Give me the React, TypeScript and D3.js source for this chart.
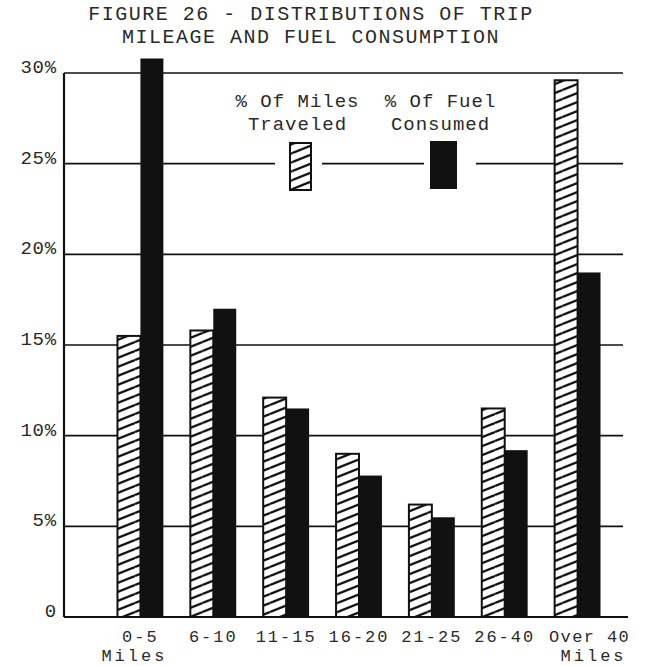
import React from "react";
import * as d3 from "d3";

// chart values
const categories = ["0-5", "6-10", "11-15", "16-20", "21-25", "26-40", "Over 40"];
const milesTraveled = [15.5, 15.8, 12.1, 9.0, 6.2, 11.5, 29.6];
const fuelConsumed = [30.8, 17.0, 11.5, 7.8, 5.5, 9.2, 19.0];
const seriesKeys = ["miles", "fuel"];
const seriesLabels = [["% Of Miles", "Traveled"], ["% Of Fuel", "Consumed"]];
const yTicks = [0, 5, 10, 15, 20, 25, 30];
const yTickLabels = ["0", "5%", "10%", "15%", "20%", "25%", "30%"];
const unitLabel = "Miles";
const titleLines = ["FIGURE 26 - DISTRIBUTIONS OF TRIP", "MILEAGE AND FUEL CONSUMPTION"];

const W = 649;
const H = 666;
const FONT = '"Liberation Mono", "DejaVu Sans Mono", monospace';
const INK = "#111";
const TXT = "#2a2a2a";

const App = () => {
  const left = 64;
  const right = 623;

  const y = d3.scaleLinear().domain([0, 30]).range([617, 73]);
  const x0 = d3.scaleBand<string>()
    .domain(categories)
    .range([104, 614])
    .paddingInner(0.37)
    .paddingOuter(0.185);
  const x1 = d3.scaleBand<string>().domain(seriesKeys).range([0, x0.bandwidth()]);

  const rows = categories.map((c, i) => ({ cat: c, miles: milesTraveled[i], fuel: fuelConsumed[i] }));

  // legend swatches
  const legend = [
    { key: "miles", x: 290, y: 143, w: 21, h: 47 },
    { key: "fuel", x: 431, y: 142, w: 25, h: 46 },
  ];

  // the 25% gridline is broken around the legend swatches
  const y25 = y(25);
  const legendSegs = [[left, 275], [322, 424], [476, right]];

  return (
    <svg width={W} height={H} style={{ position: "absolute", left: 0, top: 0, background: "#fff" }}>
      <defs>
        <pattern id="hatch" patternUnits="userSpaceOnUse" width={22.5} height={9}>
          <rect width={22.5} height={9} fill="#fff" />
          <line x1={0} y1={9} x2={22.5} y2={0} stroke={INK} strokeWidth={2.3} />
          <line x1={0} y1={18} x2={22.5} y2={9} stroke={INK} strokeWidth={2.3} />
          <line x1={0} y1={0} x2={22.5} y2={-9} stroke={INK} strokeWidth={2.3} />
        </pattern>
      </defs>

      {/* title */}
      {titleLines.map((t, i) => (
        <text key={t} x={311} y={20 + i * 23} textAnchor="middle" fontFamily={FONT} fontSize={20}
          letterSpacing={1.5} fill={TXT}>
          {t}
        </text>
      ))}

      {/* gridlines */}
      {yTicks.filter(t => t > 0 && t !== 25).map(t => (
        <line key={t} x1={left} x2={right} y1={y(t)} y2={y(t)} stroke={INK} strokeWidth={1.6} />
      ))}
      {legendSegs.map((s, i) => (
        <line key={"s" + i} x1={s[0]} x2={s[1]} y1={y25} y2={y25} stroke={INK} strokeWidth={1.6} />
      ))}

      {/* axes */}
      <line x1={left} x2={left} y1={y(30)} y2={y(0)} stroke={INK} strokeWidth={2.2} />
      <line x1={left} x2={628} y1={y(0)} y2={y(0)} stroke={INK} strokeWidth={2.2} />

      {/* y tick labels */}
      {yTicks.map((t, i) => (
        <text key={t} x={57} y={y(t)} textAnchor="end" fontFamily={FONT} fontSize={19}
          letterSpacing={0.8} fill={TXT}>
          {yTickLabels[i]}
        </text>
      ))}

      {/* bars */}
      {rows.map(r => {
        const gx = x0(r.cat)!;
        return (
          <g key={r.cat}>
            <rect
              x={gx + x1("miles")!}
              y={y(r.miles)}
              width={x1.bandwidth()}
              height={y(0) - y(r.miles)}
              fill="url(#hatch)"
              stroke={INK}
              strokeWidth={2}
            />
            <rect
              x={gx + x1("fuel")!}
              y={y(r.fuel)}
              width={x1.bandwidth()}
              height={y(0) - y(r.fuel)}
              fill={INK}
            />
          </g>
        );
      })}

      {/* x labels */}
      {categories.map((c, i) => (
        <text key={c} x={x0(c)! + x0.bandwidth() / 2 + (i === categories.length - 1 ? 12 : 0)} y={642}
          textAnchor="middle" fontFamily={FONT} fontSize={17} letterSpacing={i === categories.length - 1 ? 1.4 : 2}
          fill={TXT}>
          {c}
        </text>
      ))}
      {[categories[0], categories[categories.length - 1]].map((c, i) => (
        <text key={"u" + c} x={x0(c)! + x0.bandwidth() / 2 + (i === 0 ? -6 : 16)} y={661}
          textAnchor="middle" fontFamily={FONT} fontSize={17} letterSpacing={3} fill={TXT}>
          {unitLabel}
        </text>
      ))}

      {/* legend */}
      {legend.map((l, i) => (
        <g key={l.key}>
          {seriesLabels[i].map((s, j) => (
            <text key={s} x={l.x + l.w / 2 - 3} y={107 + j * 23} textAnchor="middle" fontFamily={FONT}
              fontSize={19} letterSpacing={1} fill={TXT}>
              {s}
            </text>
          ))}
          <rect x={l.x} y={l.y} width={l.w} height={l.h}
            fill={l.key === "miles" ? "url(#hatch)" : INK}
            stroke={INK} strokeWidth={2} />
        </g>
      ))}
    </svg>
  );
};

export default App;
